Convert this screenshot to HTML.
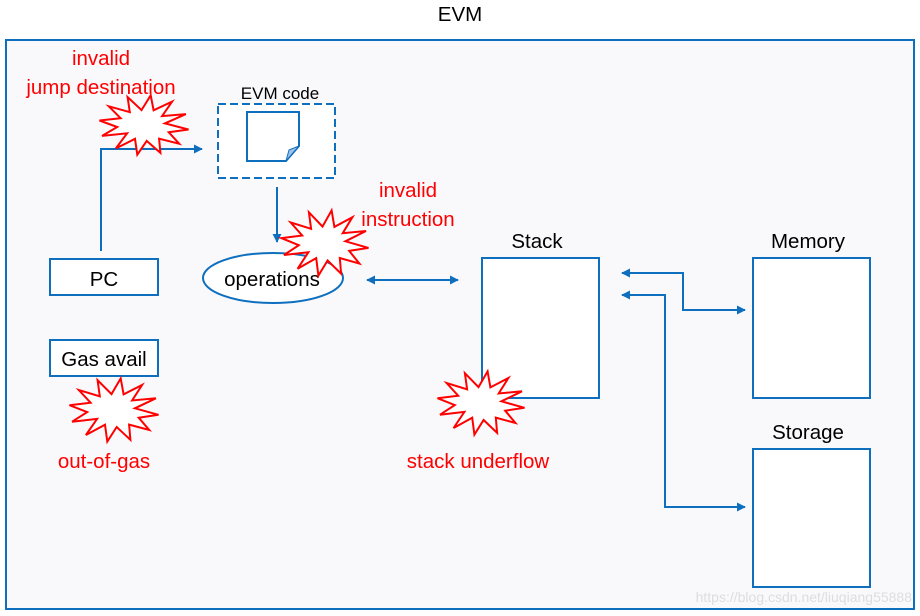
<!DOCTYPE html>
<html><head><meta charset="utf-8"><style>
body{margin:0;background:#fff;}
svg{display:block;font-family:"Liberation Sans",Arial,sans-serif;}
</style></head><body>
<svg id="s" width="920" height="616" viewBox="0 0 920 616">
<defs>
<marker id="a" viewBox="0 0 10 10" refX="9" refY="5" markerWidth="9" markerHeight="9" markerUnits="userSpaceOnUse" orient="auto-start-reverse"><path d="M0,0 L10,5 L0,10 z" fill="#0f6fbf"/></marker>
</defs>
<rect width="920" height="616" fill="#fff"/>
<text x="460" y="21" font-size="20.5" text-anchor="middle" fill="#000">EVM</text>
<rect x="6" y="40" width="908" height="569" fill="#f9f9fc" stroke="#0f6fbf" stroke-width="2"/>
<g fill="#ff0000" font-size="20.5" text-anchor="middle">
<text x="101" y="65">invalid</text>
<text x="101" y="94">jump destination</text>
<text x="408" y="197">invalid</text>
<text x="408" y="226">instruction</text>
<text x="104" y="468">out-of-gas</text>
<text x="478" y="468">stack underflow</text>
</g>
<g stroke="#0f6fbf" stroke-width="2" fill="none">
<polyline points="101,251 101,149 202,149" marker-end="url(#a)"/>
<line x1="277" y1="187" x2="277" y2="242" marker-end="url(#a)"/>
<line x1="367" y1="280" x2="458" y2="280" marker-start="url(#a)" marker-end="url(#a)"/>
<polyline points="622,273 683,273 683,310 745,310" marker-start="url(#a)" marker-end="url(#a)"/>
<polyline points="622,295 665,295 665,507 745,507" marker-start="url(#a)" marker-end="url(#a)"/>
</g>
<g fill="#fff" stroke="#0f6fbf" stroke-width="2">
<rect x="218" y="104" width="117" height="74" stroke-dasharray="8,4"/>
<path d="M247,112 H299 V146 L286,161 H247 Z"/>
<path d="M286,161 L289,150 L299,146 Z" fill="#9ec3e6" stroke-width="1"/>
<rect x="50" y="259" width="108" height="36"/>
<rect x="50" y="340" width="108" height="36"/>
<ellipse cx="273" cy="278" rx="70" ry="25"/>
<rect x="482" y="258" width="117" height="140"/>
<rect x="753" y="258" width="117" height="140"/>
<rect x="753" y="449" width="117" height="138"/>
</g>
<text x="280" y="99" font-size="17" text-anchor="middle">EVM code</text>
<g font-size="20.5" text-anchor="middle" fill="#000">
<text x="104" y="286">PC</text>
<text x="104" y="366">Gas avail</text>
<text x="272" y="286">operations</text>
<text x="537" y="248">Stack</text>
<text x="808" y="248">Memory</text>
<text x="808" y="439">Storage</text>
</g>
<g id="stars" fill="#fff" stroke="#ff0000" stroke-width="2"></g>
<text x="912" y="602" font-size="14" text-anchor="end" fill="#dddddd">https://blog.csdn.net/liuqiang55888</text>
</svg>
<script>
function star(cx,cy,rx,ry,n,ir){var p=[];for(var i=0;i<2*n;i++){var a=Math.PI*i/n-Math.PI/2+0.15;var r=i%2?ir*(0.85+0.3*((i*7)%5)/5):1;p.push((cx+Math.cos(a)*rx*r).toFixed(1)+","+(cy+Math.sin(a)*ry*r).toFixed(1));}
var e=document.createElementNS("http://www.w3.org/2000/svg","polygon");e.setAttribute("points",p.join(" "));document.getElementById("stars").appendChild(e);}
star(144,125,45,30,12,0.55);
star(325,243,44,33,12,0.55);
star(481,403,44,32,12,0.55);
star(114,410,45,32,12,0.55);
</script>
</body></html>
